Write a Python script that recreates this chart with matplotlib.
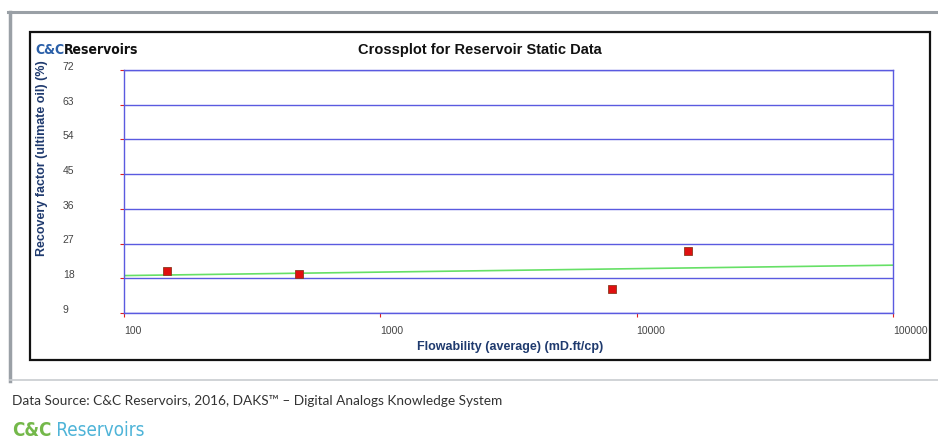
import matplotlib
matplotlib.use("Agg")
import matplotlib.pyplot as plt
from matplotlib.lines import Line2D
from matplotlib.patches import Rectangle
import matplotlib.transforms as mtransforms

# точки (скважины / залежи)
flowability = [147, 483, 8040, 15800]
recovery = [19.8, 19.2, 15.1, 25.0]

# линия тренда
trend_x = [100, 1000, 10000, 100000]
trend_y = [18.7, 19.6, 20.5, 21.4]

y_ticks = [9, 18, 27, 36, 45, 54, 63, 72]
x_ticks = [100, 1000, 10000, 100000]
x_tick_labels = ["100", "1000", "10000", "100000"]

W, H = 938, 443
GRID = "#5a5ae0"
NAVY = "#1f3a6e"

plt.rcParams["font.family"] = ["Liberation Sans", "DejaVu Sans"]

fig = plt.figure(figsize=(W / 100, H / 100), dpi=100)
fig.patch.set_facecolor("white")

# рамки
fig.add_artist(Line2D([8 / W, 1], [1 - 12 / H] * 2, color="#9aa0a6", lw=2.2))
fig.add_artist(Line2D([10 / W] * 2, [1 - 12 / H, 1 - 381 / H], color="#9aa0a6", lw=2.5))
fig.add_artist(Line2D([10 / W, 1], [1 - 380 / H] * 2, color="#c8ccd0", lw=1.2))
fig.add_artist(Rectangle((30 / W, 1 - 360 / H), 900 / W, 328 / H, transform=fig.transFigure,
                         fill=False, ec="#111111", lw=1.6))

ax = fig.add_axes([124 / W, 1 - 313 / H, 769 / W, 243 / H])
ax.set_xscale("log")
ax.set_xlim(100, 100000)
ax.set_ylim(9, 72)

ax.plot(trend_x, trend_y, color="#66e066", lw=1.2, zorder=2)
ax.plot(flowability, recovery, ls="none", marker="s", ms=6, mfc="#e01010", mec="#8a3a20", mew=0.6, zorder=3)

ax.set_yticks(y_ticks)
ax.set_xticks(x_ticks)
ax.set_xticklabels(x_tick_labels)
ax.minorticks_off()
ax.grid(axis="y", color=GRID, lw=1)
for s in ax.spines.values():
    s.set_color(GRID)
    s.set_linewidth(1)

ax.tick_params(axis="both", colors="#e02020", length=3, width=0.8, labelsize=7.5, labelcolor="#444444")
ax.tick_params(axis="y", pad=41)
ax.tick_params(axis="x", pad=6)
offset = mtransforms.ScaledTranslation(0, 3 / 72, fig.dpi_scale_trans)
for lbl in ax.get_yticklabels():
    lbl.set_ha("left")
    lbl.set_transform(lbl.get_transform() + offset)
for lbl in ax.get_xticklabels():
    lbl.set_ha("left")

fig.text(480 / W, 1 - 50 / H, "Crossplot for Reservoir Static Data", ha="center", va="center",
         fontsize=10.5, fontweight="bold", color="#111111")
fig.text(510 / W, 1 - 347 / H, "Flowability (average) (mD.ft/cp)", ha="center", va="center",
         fontsize=9, fontweight="bold", color=NAVY)
fig.text(42 / W, 1 - 158 / H, "Recovery factor (ultimate oil) (%)", ha="center", va="center",
         rotation=90, fontsize=9, fontweight="bold", color=NAVY)

# логотип сверху
t1 = fig.text(35 / W, 1 - 50 / H, "C&C", family="DejaVu Sans", fontstretch="condensed",
              fontsize=10, fontweight="bold", color="#2a5fa8", va="center")
plt.annotate("Reservoirs", xy=(1, 0.5), xycoords=t1, va="center", family="DejaVu Sans",
             fontstretch="condensed", fontsize=10, fontweight="bold", color="#111111")

# подпись снизу
fig.text(12 / W, 1 - 401 / H, "Data Source: C&C Reservoirs, 2016, DAKS\u2122 \u2013 Digital Analogs Knowledge System",
         va="center", fontsize=9.8, color="#333333", family=["Lato", "DejaVu Sans"])
t2 = fig.text(12 / W, 1 - 431 / H, "C&C", family="DejaVu Sans", fontstretch="condensed",
              fontsize=13.5, fontweight="bold", color="#74b84a", va="center")
plt.annotate(" Reservoirs", xy=(1, 0.5), xycoords=t2, va="center", family="DejaVu Sans",
             fontstretch="condensed", fontsize=13.5, color="#4fb4d8")

fig.savefig("out.png", dpi=100)
